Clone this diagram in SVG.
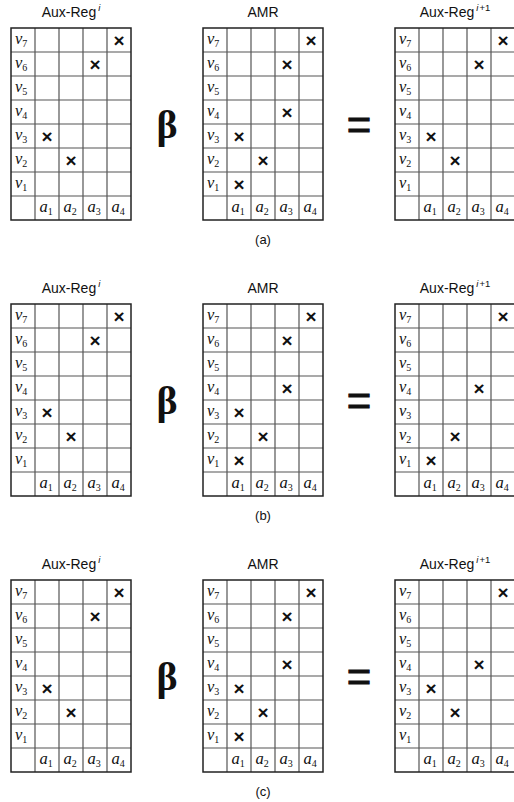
<svg xmlns="http://www.w3.org/2000/svg" width="514" height="802" viewBox="0 0 514 802">
<style>
.bg{fill:#fff}
.in{fill:none;stroke:#555;stroke-width:1.2}
.out{fill:none;stroke:#222;stroke-width:1.5}
.t{font-family:"Liberation Sans",Arial,sans-serif;font-size:14px;fill:#111;text-anchor:middle}
.sup{font-size:9.5px;font-style:italic}
.supn{font-size:9.5px}
.cap{font-family:"Liberation Sans",Arial,sans-serif;font-size:13px;fill:#111;text-anchor:middle}
.m{font-family:"Liberation Serif","Times New Roman",serif;font-size:16.5px;font-style:italic;fill:#111}
.s{font-size:10px;font-style:normal}
.x{font-family:"Liberation Sans",Arial,sans-serif;font-size:19px;font-weight:bold;fill:#111;text-anchor:middle}
.beta{font-family:"Liberation Serif","Times New Roman",serif;font-size:40px;font-weight:bold;fill:#111;text-anchor:middle}
.eq{font-family:"Liberation Sans",Arial,sans-serif;font-size:42px;fill:#111;stroke:#111;stroke-width:0.9;text-anchor:middle}
</style>
<defs>
<g id="grid">
<rect class="bg" x="0" y="0" width="120" height="192"/>
<path class="in" d="M24 0V192M48 0V192M72 0V192M96 0V192M0 24H120M0 48H120M0 72H120M0 96H120M0 120H120M0 144H120M0 168H120"/>
<rect class="out" x="0" y="0" width="120" height="192"/>
</g>
</defs>
<rect x="0" y="0" width="514" height="802" fill="#fff"/>

<!-- Panel (a) -->
<g id="panel-a">
<g id="a-auxreg-i">
<use href="#grid" x="11" y="28"/>
<text class="t" x="71" y="17">Aux-Reg<tspan class="sup" dx="2" dy="-6">i</tspan></text>
<text class="m" x="15" y="44">v<tspan class="s" dy="3">7</tspan></text>
<text class="m" x="15" y="68">v<tspan class="s" dy="3">6</tspan></text>
<text class="m" x="15" y="92">v<tspan class="s" dy="3">5</tspan></text>
<text class="m" x="15" y="116">v<tspan class="s" dy="3">4</tspan></text>
<text class="m" x="15" y="140">v<tspan class="s" dy="3">3</tspan></text>
<text class="m" x="15" y="164">v<tspan class="s" dy="3">2</tspan></text>
<text class="m" x="15" y="188">v<tspan class="s" dy="3">1</tspan></text>
<text class="m" x="39.5" y="212">a<tspan class="s" dy="3">1</tspan></text>
<text class="m" x="63.5" y="212">a<tspan class="s" dy="3">2</tspan></text>
<text class="m" x="87.5" y="212">a<tspan class="s" dy="3">3</tspan></text>
<text class="m" x="111.5" y="212">a<tspan class="s" dy="3">4</tspan></text>
<text class="x" x="119" y="47">×</text>
<text class="x" x="95" y="71">×</text>
<text class="x" x="47" y="143">×</text>
<text class="x" x="71" y="167">×</text>
</g>
<text id="a-beta" class="beta" x="167" y="138">β</text>
<g id="a-amr">
<use href="#grid" x="203" y="28"/>
<text class="t" x="263" y="17">AMR</text>
<text class="m" x="207" y="44">v<tspan class="s" dy="3">7</tspan></text>
<text class="m" x="207" y="68">v<tspan class="s" dy="3">6</tspan></text>
<text class="m" x="207" y="92">v<tspan class="s" dy="3">5</tspan></text>
<text class="m" x="207" y="116">v<tspan class="s" dy="3">4</tspan></text>
<text class="m" x="207" y="140">v<tspan class="s" dy="3">3</tspan></text>
<text class="m" x="207" y="164">v<tspan class="s" dy="3">2</tspan></text>
<text class="m" x="207" y="188">v<tspan class="s" dy="3">1</tspan></text>
<text class="m" x="231.5" y="212">a<tspan class="s" dy="3">1</tspan></text>
<text class="m" x="255.5" y="212">a<tspan class="s" dy="3">2</tspan></text>
<text class="m" x="279.5" y="212">a<tspan class="s" dy="3">3</tspan></text>
<text class="m" x="303.5" y="212">a<tspan class="s" dy="3">4</tspan></text>
<text class="x" x="311" y="47">×</text>
<text class="x" x="287" y="71">×</text>
<text class="x" x="287" y="119">×</text>
<text class="x" x="239" y="143">×</text>
<text class="x" x="263" y="167">×</text>
<text class="x" x="239" y="191">×</text>
</g>
<text id="a-eq" class="eq" x="359" y="139">=</text>
<g id="a-auxreg-i1">
<use href="#grid" x="395" y="28"/>
<text class="t" x="455" y="17">Aux-Reg<tspan class="sup" dx="2" dy="-6">i</tspan><tspan class="supn" dx="1">+1</tspan></text>
<text class="m" x="399" y="44">v<tspan class="s" dy="3">7</tspan></text>
<text class="m" x="399" y="68">v<tspan class="s" dy="3">6</tspan></text>
<text class="m" x="399" y="92">v<tspan class="s" dy="3">5</tspan></text>
<text class="m" x="399" y="116">v<tspan class="s" dy="3">4</tspan></text>
<text class="m" x="399" y="140">v<tspan class="s" dy="3">3</tspan></text>
<text class="m" x="399" y="164">v<tspan class="s" dy="3">2</tspan></text>
<text class="m" x="399" y="188">v<tspan class="s" dy="3">1</tspan></text>
<text class="m" x="423.5" y="212">a<tspan class="s" dy="3">1</tspan></text>
<text class="m" x="447.5" y="212">a<tspan class="s" dy="3">2</tspan></text>
<text class="m" x="471.5" y="212">a<tspan class="s" dy="3">3</tspan></text>
<text class="m" x="495.5" y="212">a<tspan class="s" dy="3">4</tspan></text>
<text class="x" x="503" y="47">×</text>
<text class="x" x="479" y="71">×</text>
<text class="x" x="431" y="143">×</text>
<text class="x" x="455" y="167">×</text>
</g>
<text class="cap" x="263" y="244">(a)</text>
</g>

<!-- Panel (b) -->
<g id="panel-b">
<g id="b-auxreg-i">
<use href="#grid" x="11" y="304"/>
<text class="t" x="71" y="293">Aux-Reg<tspan class="sup" dx="2" dy="-6">i</tspan></text>
<text class="m" x="15" y="320">v<tspan class="s" dy="3">7</tspan></text>
<text class="m" x="15" y="344">v<tspan class="s" dy="3">6</tspan></text>
<text class="m" x="15" y="368">v<tspan class="s" dy="3">5</tspan></text>
<text class="m" x="15" y="392">v<tspan class="s" dy="3">4</tspan></text>
<text class="m" x="15" y="416">v<tspan class="s" dy="3">3</tspan></text>
<text class="m" x="15" y="440">v<tspan class="s" dy="3">2</tspan></text>
<text class="m" x="15" y="464">v<tspan class="s" dy="3">1</tspan></text>
<text class="m" x="39.5" y="488">a<tspan class="s" dy="3">1</tspan></text>
<text class="m" x="63.5" y="488">a<tspan class="s" dy="3">2</tspan></text>
<text class="m" x="87.5" y="488">a<tspan class="s" dy="3">3</tspan></text>
<text class="m" x="111.5" y="488">a<tspan class="s" dy="3">4</tspan></text>
<text class="x" x="119" y="323">×</text>
<text class="x" x="95" y="347">×</text>
<text class="x" x="47" y="419">×</text>
<text class="x" x="71" y="443">×</text>
</g>
<text id="b-beta" class="beta" x="167" y="414">β</text>
<g id="b-amr">
<use href="#grid" x="203" y="304"/>
<text class="t" x="263" y="293">AMR</text>
<text class="m" x="207" y="320">v<tspan class="s" dy="3">7</tspan></text>
<text class="m" x="207" y="344">v<tspan class="s" dy="3">6</tspan></text>
<text class="m" x="207" y="368">v<tspan class="s" dy="3">5</tspan></text>
<text class="m" x="207" y="392">v<tspan class="s" dy="3">4</tspan></text>
<text class="m" x="207" y="416">v<tspan class="s" dy="3">3</tspan></text>
<text class="m" x="207" y="440">v<tspan class="s" dy="3">2</tspan></text>
<text class="m" x="207" y="464">v<tspan class="s" dy="3">1</tspan></text>
<text class="m" x="231.5" y="488">a<tspan class="s" dy="3">1</tspan></text>
<text class="m" x="255.5" y="488">a<tspan class="s" dy="3">2</tspan></text>
<text class="m" x="279.5" y="488">a<tspan class="s" dy="3">3</tspan></text>
<text class="m" x="303.5" y="488">a<tspan class="s" dy="3">4</tspan></text>
<text class="x" x="311" y="323">×</text>
<text class="x" x="287" y="347">×</text>
<text class="x" x="287" y="395">×</text>
<text class="x" x="239" y="419">×</text>
<text class="x" x="263" y="443">×</text>
<text class="x" x="239" y="467">×</text>
</g>
<text id="b-eq" class="eq" x="359" y="415">=</text>
<g id="b-auxreg-i1">
<use href="#grid" x="395" y="304"/>
<text class="t" x="455" y="293">Aux-Reg<tspan class="sup" dx="2" dy="-6">i</tspan><tspan class="supn" dx="1">+1</tspan></text>
<text class="m" x="399" y="320">v<tspan class="s" dy="3">7</tspan></text>
<text class="m" x="399" y="344">v<tspan class="s" dy="3">6</tspan></text>
<text class="m" x="399" y="368">v<tspan class="s" dy="3">5</tspan></text>
<text class="m" x="399" y="392">v<tspan class="s" dy="3">4</tspan></text>
<text class="m" x="399" y="416">v<tspan class="s" dy="3">3</tspan></text>
<text class="m" x="399" y="440">v<tspan class="s" dy="3">2</tspan></text>
<text class="m" x="399" y="464">v<tspan class="s" dy="3">1</tspan></text>
<text class="m" x="423.5" y="488">a<tspan class="s" dy="3">1</tspan></text>
<text class="m" x="447.5" y="488">a<tspan class="s" dy="3">2</tspan></text>
<text class="m" x="471.5" y="488">a<tspan class="s" dy="3">3</tspan></text>
<text class="m" x="495.5" y="488">a<tspan class="s" dy="3">4</tspan></text>
<text class="x" x="503" y="323">×</text>
<text class="x" x="479" y="395">×</text>
<text class="x" x="455" y="443">×</text>
<text class="x" x="431" y="467">×</text>
</g>
<text class="cap" x="263" y="520">(b)</text>
</g>

<!-- Panel (c) -->
<g id="panel-c">
<g id="c-auxreg-i">
<use href="#grid" x="11" y="580"/>
<text class="t" x="71" y="569">Aux-Reg<tspan class="sup" dx="2" dy="-6">i</tspan></text>
<text class="m" x="15" y="596">v<tspan class="s" dy="3">7</tspan></text>
<text class="m" x="15" y="620">v<tspan class="s" dy="3">6</tspan></text>
<text class="m" x="15" y="644">v<tspan class="s" dy="3">5</tspan></text>
<text class="m" x="15" y="668">v<tspan class="s" dy="3">4</tspan></text>
<text class="m" x="15" y="692">v<tspan class="s" dy="3">3</tspan></text>
<text class="m" x="15" y="716">v<tspan class="s" dy="3">2</tspan></text>
<text class="m" x="15" y="740">v<tspan class="s" dy="3">1</tspan></text>
<text class="m" x="39.5" y="764">a<tspan class="s" dy="3">1</tspan></text>
<text class="m" x="63.5" y="764">a<tspan class="s" dy="3">2</tspan></text>
<text class="m" x="87.5" y="764">a<tspan class="s" dy="3">3</tspan></text>
<text class="m" x="111.5" y="764">a<tspan class="s" dy="3">4</tspan></text>
<text class="x" x="119" y="599">×</text>
<text class="x" x="95" y="623">×</text>
<text class="x" x="47" y="695">×</text>
<text class="x" x="71" y="719">×</text>
</g>
<text id="c-beta" class="beta" x="167" y="690">β</text>
<g id="c-amr">
<use href="#grid" x="203" y="580"/>
<text class="t" x="263" y="569">AMR</text>
<text class="m" x="207" y="596">v<tspan class="s" dy="3">7</tspan></text>
<text class="m" x="207" y="620">v<tspan class="s" dy="3">6</tspan></text>
<text class="m" x="207" y="644">v<tspan class="s" dy="3">5</tspan></text>
<text class="m" x="207" y="668">v<tspan class="s" dy="3">4</tspan></text>
<text class="m" x="207" y="692">v<tspan class="s" dy="3">3</tspan></text>
<text class="m" x="207" y="716">v<tspan class="s" dy="3">2</tspan></text>
<text class="m" x="207" y="740">v<tspan class="s" dy="3">1</tspan></text>
<text class="m" x="231.5" y="764">a<tspan class="s" dy="3">1</tspan></text>
<text class="m" x="255.5" y="764">a<tspan class="s" dy="3">2</tspan></text>
<text class="m" x="279.5" y="764">a<tspan class="s" dy="3">3</tspan></text>
<text class="m" x="303.5" y="764">a<tspan class="s" dy="3">4</tspan></text>
<text class="x" x="311" y="599">×</text>
<text class="x" x="287" y="623">×</text>
<text class="x" x="287" y="671">×</text>
<text class="x" x="239" y="695">×</text>
<text class="x" x="263" y="719">×</text>
<text class="x" x="239" y="743">×</text>
</g>
<text id="c-eq" class="eq" x="359" y="691">=</text>
<g id="c-auxreg-i1">
<use href="#grid" x="395" y="580"/>
<text class="t" x="455" y="569">Aux-Reg<tspan class="sup" dx="2" dy="-6">i</tspan><tspan class="supn" dx="1">+1</tspan></text>
<text class="m" x="399" y="596">v<tspan class="s" dy="3">7</tspan></text>
<text class="m" x="399" y="620">v<tspan class="s" dy="3">6</tspan></text>
<text class="m" x="399" y="644">v<tspan class="s" dy="3">5</tspan></text>
<text class="m" x="399" y="668">v<tspan class="s" dy="3">4</tspan></text>
<text class="m" x="399" y="692">v<tspan class="s" dy="3">3</tspan></text>
<text class="m" x="399" y="716">v<tspan class="s" dy="3">2</tspan></text>
<text class="m" x="399" y="740">v<tspan class="s" dy="3">1</tspan></text>
<text class="m" x="423.5" y="764">a<tspan class="s" dy="3">1</tspan></text>
<text class="m" x="447.5" y="764">a<tspan class="s" dy="3">2</tspan></text>
<text class="m" x="471.5" y="764">a<tspan class="s" dy="3">3</tspan></text>
<text class="m" x="495.5" y="764">a<tspan class="s" dy="3">4</tspan></text>
<text class="x" x="503" y="599">×</text>
<text class="x" x="479" y="671">×</text>
<text class="x" x="431" y="695">×</text>
<text class="x" x="455" y="719">×</text>
</g>
<text class="cap" x="263" y="796">(c)</text>
</g>
</svg>
